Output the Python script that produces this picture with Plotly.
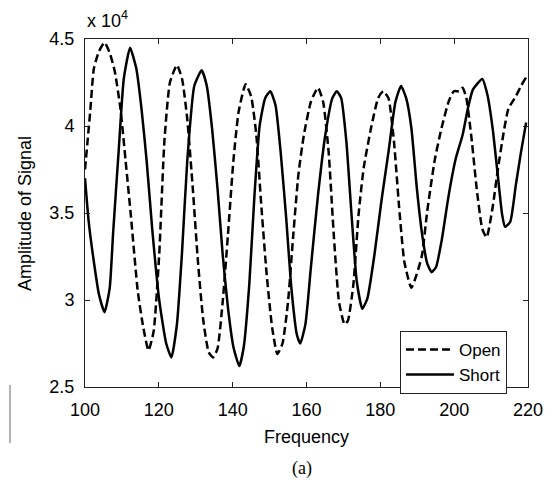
import plotly.graph_objects as go

# Values in units of 10^4
freq_open = [100, 101.4, 102.4, 103.8, 105.3, 106.7, 108.1, 109.6, 111.0, 112.4,
             114.3, 115.8, 117.2, 118.6, 120.1, 121.5, 123.0, 124.9, 126.3, 127.7,
             129.2, 130.6, 132.0, 133.5, 134.7, 135.9, 137.3, 138.7, 140.2, 141.6,
             143.5, 145.0, 146.4, 147.8, 149.2, 150.7, 152.1, 153.5, 155.0, 156.4,
             157.8, 159.3, 161.2, 163.1, 164.5, 166.0, 167.4, 168.8, 170.3, 171.2,
             172.7, 174.1, 175.5, 177.5, 179.4, 180.8, 182.2, 183.7, 185.1, 186.5,
             188.4, 189.9, 191.3, 192.7, 194.7, 196.6, 198.5, 199.9, 201.3, 202.3,
             203.3, 204.7, 206.1, 207.6, 208.8, 210.4, 211.9, 213.3, 214.7, 216.7,
             218.1, 219.5]
amp_open = [3.75, 4.08, 4.33, 4.43, 4.48, 4.42, 4.31, 4.10, 3.80, 3.49,
            3.05, 2.84, 2.71, 2.82, 3.26, 3.91, 4.25, 4.35, 4.27, 4.04,
            3.64, 3.22, 2.89, 2.70, 2.67, 2.72, 2.99, 3.37, 3.80, 4.08,
            4.24, 4.17, 3.95, 3.53, 3.15, 2.84, 2.69, 2.75, 2.99, 3.37,
            3.72, 3.95, 4.14, 4.22, 4.14, 3.85, 3.37, 2.99, 2.86, 2.88,
            3.09, 3.49, 3.76, 3.99, 4.16, 4.20, 4.16, 3.91, 3.53, 3.22,
            3.07, 3.15, 3.26, 3.51, 3.80, 3.99, 4.14, 4.20, 4.20, 4.22,
            4.16, 3.93, 3.64, 3.41, 3.36, 3.53, 3.76, 3.95, 4.10, 4.17,
            4.23, 4.28]

freq_short = [100, 101.0, 102.4, 103.8, 105.3, 106.7, 107.6, 109.1, 110.5, 112.2,
              113.9, 115.3, 116.7, 118.2, 120.1, 122.0, 123.4, 124.9, 126.3, 127.7,
              129.6, 131.6, 133.0, 134.4, 135.9, 137.3, 138.7, 140.2, 141.8, 143.0,
              144.5, 145.9, 147.3, 148.8, 150.2, 151.6, 153.0, 154.5, 155.9, 157.4,
              158.3, 159.7, 161.2, 163.1, 165.1, 167.0, 168.2, 169.4, 170.8, 172.2,
              173.6, 175.1, 176.5, 178.4, 180.3, 182.2, 184.1, 185.6, 187.0, 188.4,
              189.9, 191.3, 192.7, 193.9, 195.1, 196.6, 198.5, 200.4, 202.3, 203.7,
              205.1, 207.6, 209.0, 210.4, 211.9, 213.0, 213.8, 215.2, 216.7, 218.1,
              219.5]
amp_short = [3.70, 3.45, 3.22, 3.03, 2.93, 3.07, 3.38, 3.85, 4.27, 4.45,
             4.33, 4.10, 3.80, 3.41, 3.00, 2.75, 2.67, 2.86, 3.28, 3.80,
             4.23, 4.32, 4.23, 3.99, 3.64, 3.26, 2.96, 2.73, 2.62, 2.73,
             3.09, 3.60, 4.00, 4.16, 4.20, 4.12, 3.85, 3.47, 3.07, 2.80,
             2.75, 2.86, 3.19, 3.60, 3.95, 4.16, 4.20, 4.16, 3.91, 3.49,
             3.11, 2.95, 3.01, 3.26, 3.57, 3.85, 4.14, 4.23, 4.16, 3.99,
             3.64, 3.38, 3.21, 3.16, 3.19, 3.34, 3.60, 3.81, 3.95, 4.10,
             4.21, 4.27, 4.18, 3.99, 3.70, 3.49, 3.42, 3.45, 3.66, 3.85,
             4.02]

x_ticks = [100, 120, 140, 160, 180, 200, 220]
y_ticks = [2.5, 3, 3.5, 4, 4.5]
y_tick_labels = ["2.5", "3", "3.5", "4", "4.5"]

FONT = "Liberation Sans, Arial, sans-serif"

fig = go.Figure()
fig.add_trace(go.Scatter(x=freq_open, y=amp_open, mode="lines", name="Open",
                         line=dict(color="black", width=2.5, dash="8px,4px",
                                   shape="spline", smoothing=0.5)))
fig.add_trace(go.Scatter(x=freq_short, y=amp_short, mode="lines", name="Short",
                         line=dict(color="black", width=2.5,
                                   shape="spline", smoothing=0.5)))

axis_common = dict(showline=True, linecolor="#222", linewidth=1, mirror="ticks",
                   ticks="inside", ticklen=5, tickcolor="#222", showgrid=False,
                   zeroline=False, tickfont=dict(family=FONT, size=18, color="black"))

# page body has an 8px margin; figure sized so the plot box lands at x 85-528, y 39-387
fig.update_layout(
    width=546, height=472,
    margin=dict(l=77, r=26, t=31, b=93),
    paper_bgcolor="white", plot_bgcolor="white",
    xaxis=dict(range=[100, 220], tickvals=x_ticks, ticklabelstandoff=6, **axis_common),
    yaxis=dict(range=[2.5, 4.5], tickvals=y_ticks, ticktext=y_tick_labels,
               ticklabelstandoff=6, **axis_common),
    legend=dict(x=0.711, y=0.161, xanchor="left", yanchor="top",
                bgcolor="white", bordercolor="#222", borderwidth=1,
                font=dict(family=FONT, size=17, color="black"),
                itemwidth=48, tracegroupgap=0,
                entrywidth=118, entrywidthmode="pixels"),
    showlegend=True,
)

fig.add_annotation(text="Frequency", xref="paper", yref="paper",
                   x=(306 - 85) / 443, y=(387 - 437) / 348, showarrow=False,
                   xanchor="center", yanchor="middle",
                   font=dict(family=FONT, size=18, color="black"))
fig.add_annotation(text="Amplitude of Signal", xref="paper", yref="paper",
                   x=(25 - 85) / 443, y=0.5, showarrow=False, textangle=-90,
                   xanchor="center", yanchor="middle",
                   font=dict(family=FONT, size=18, color="black"))
fig.add_annotation(text="x 10<sup>4</sup>", xref="paper", yref="paper",
                   x=0, y=(387 - 33) / 348, showarrow=False,
                   xanchor="left", yanchor="bottom",
                   font=dict(family=FONT, size=18, color="black"))
fig.add_annotation(text="(a)", xref="paper", yref="paper",
                   x=(302 - 85) / 443, y=(387 - 468) / 348, showarrow=False,
                   xanchor="center", yanchor="middle",
                   font=dict(family="Liberation Serif, Times New Roman, serif",
                             size=18, color="black"))
fig.add_shape(type="line", xref="paper", yref="paper",
              x0=(10 - 85) / 443, x1=(10 - 85) / 443,
              y0=(387 - 385) / 348, y1=(387 - 443) / 348,
              line=dict(color="#666", width=1))

fig.write_html("out.html")
